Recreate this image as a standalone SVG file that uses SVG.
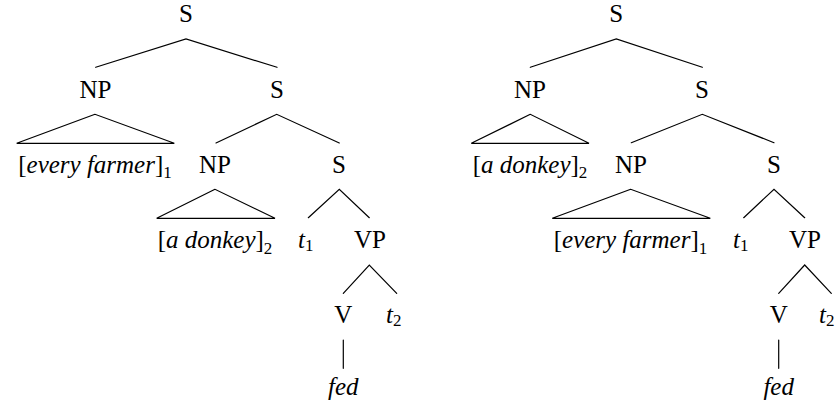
<svg xmlns="http://www.w3.org/2000/svg" width="838" height="406" viewBox="0 0 838 406">
<style>
text{font-family:'Liberation Serif','DejaVu Serif',serif;font-size:25px;fill:#000}
.m{text-anchor:middle}
.i{font-style:italic}
.sub{font-size:17px;font-style:normal}
.edge{stroke:#000;stroke-width:1.2;fill:none;stroke-linecap:round}
</style>
<rect width="838" height="406" fill="#fff"/>
<g id="connectors" class="edge">
<polyline points="95.7,67.3 186,39 277,67.3"/>
<polygon points="95,114.3 16.7,143.3 174.3,143.3"/>
<polyline points="216,143 276.7,114.3 339.3,143"/>
<polygon points="215,189.3 156.7,218.3 275,218.3"/>
<polyline points="308.3,217.7 339.3,189.3 369.3,217.7"/>
<polyline points="343.3,293.3 369.3,265 396.7,293.3"/>
<line x1="343.3" y1="340" x2="343.3" y2="368.3"/>
<polyline points="530.3,67.3 616.3,39 702.3,67.3"/>
<polygon points="530.3,114.3 471.3,143.3 589,143.3"/>
<polyline points="631.3,142.7 702.3,114.3 774,142.7"/>
<polygon points="630.7,189.3 552.3,218.3 710.3,218.3"/>
<polyline points="743.7,217.7 774,189.3 804.7,217.7"/>
<polyline points="778.7,293.3 804.7,265 831.3,293.3"/>
<line x1="778.7" y1="340" x2="778.7" y2="368.3"/>
</g>
<g id="L-S0"><text class="m" x="186" y="21.5">S</text></g>
<g id="L-NP1"><text class="m" x="95.5" y="97.5">NP</text></g>
<g id="L-S1"><text class="m" x="277" y="97.5">S</text></g>
<g id="L-farmer"><text class="m" x="95" y="172.7">[<tspan class="i">every farmer</tspan>]<tspan class="sub" dy="5.5">1</tspan></text></g>
<g id="L-NP2"><text class="m" x="215" y="172.7">NP</text></g>
<g id="L-S2"><text class="m" x="339" y="172.7">S</text></g>
<g id="L-donkey"><text class="m" x="215" y="248">[<tspan class="i">a donkey</tspan>]<tspan class="sub" dy="5.5">2</tspan></text></g>
<g id="L-t1"><text x="298" y="248"><tspan class="i">t</tspan><tspan class="sub" dy="3">1</tspan></text></g>
<g id="L-VP"><text class="m" x="370" y="248">VP</text></g>
<g id="L-V"><text class="m" x="343.3" y="323">V</text></g>
<g id="L-t2"><text x="386" y="323"><tspan class="i">t</tspan><tspan class="sub" dy="3">2</tspan></text></g>
<g id="L-fed"><text class="m i" x="343.3" y="395">fed</text></g>
<g id="R-S0"><text class="m" x="616.3" y="21.5">S</text></g>
<g id="R-NP1"><text class="m" x="530" y="97.5">NP</text></g>
<g id="R-S1"><text class="m" x="702" y="97.5">S</text></g>
<g id="R-donkey"><text class="m" x="530" y="172.7">[<tspan class="i">a donkey</tspan>]<tspan class="sub" dy="5.5">2</tspan></text></g>
<g id="R-NP2"><text class="m" x="631" y="172.7">NP</text></g>
<g id="R-S2"><text class="m" x="774" y="172.7">S</text></g>
<g id="R-farmer"><text class="m" x="630.5" y="248">[<tspan class="i">every farmer</tspan>]<tspan class="sub" dy="5.5">1</tspan></text></g>
<g id="R-t1"><text x="733" y="248"><tspan class="i">t</tspan><tspan class="sub" dy="3">1</tspan></text></g>
<g id="R-VP"><text class="m" x="805" y="248">VP</text></g>
<g id="R-V"><text class="m" x="778.7" y="323">V</text></g>
<g id="R-t2"><text x="819" y="323"><tspan class="i">t</tspan><tspan class="sub" dy="3">2</tspan></text></g>
<g id="R-fed"><text class="m i" x="778.7" y="395">fed</text></g>
</svg>
